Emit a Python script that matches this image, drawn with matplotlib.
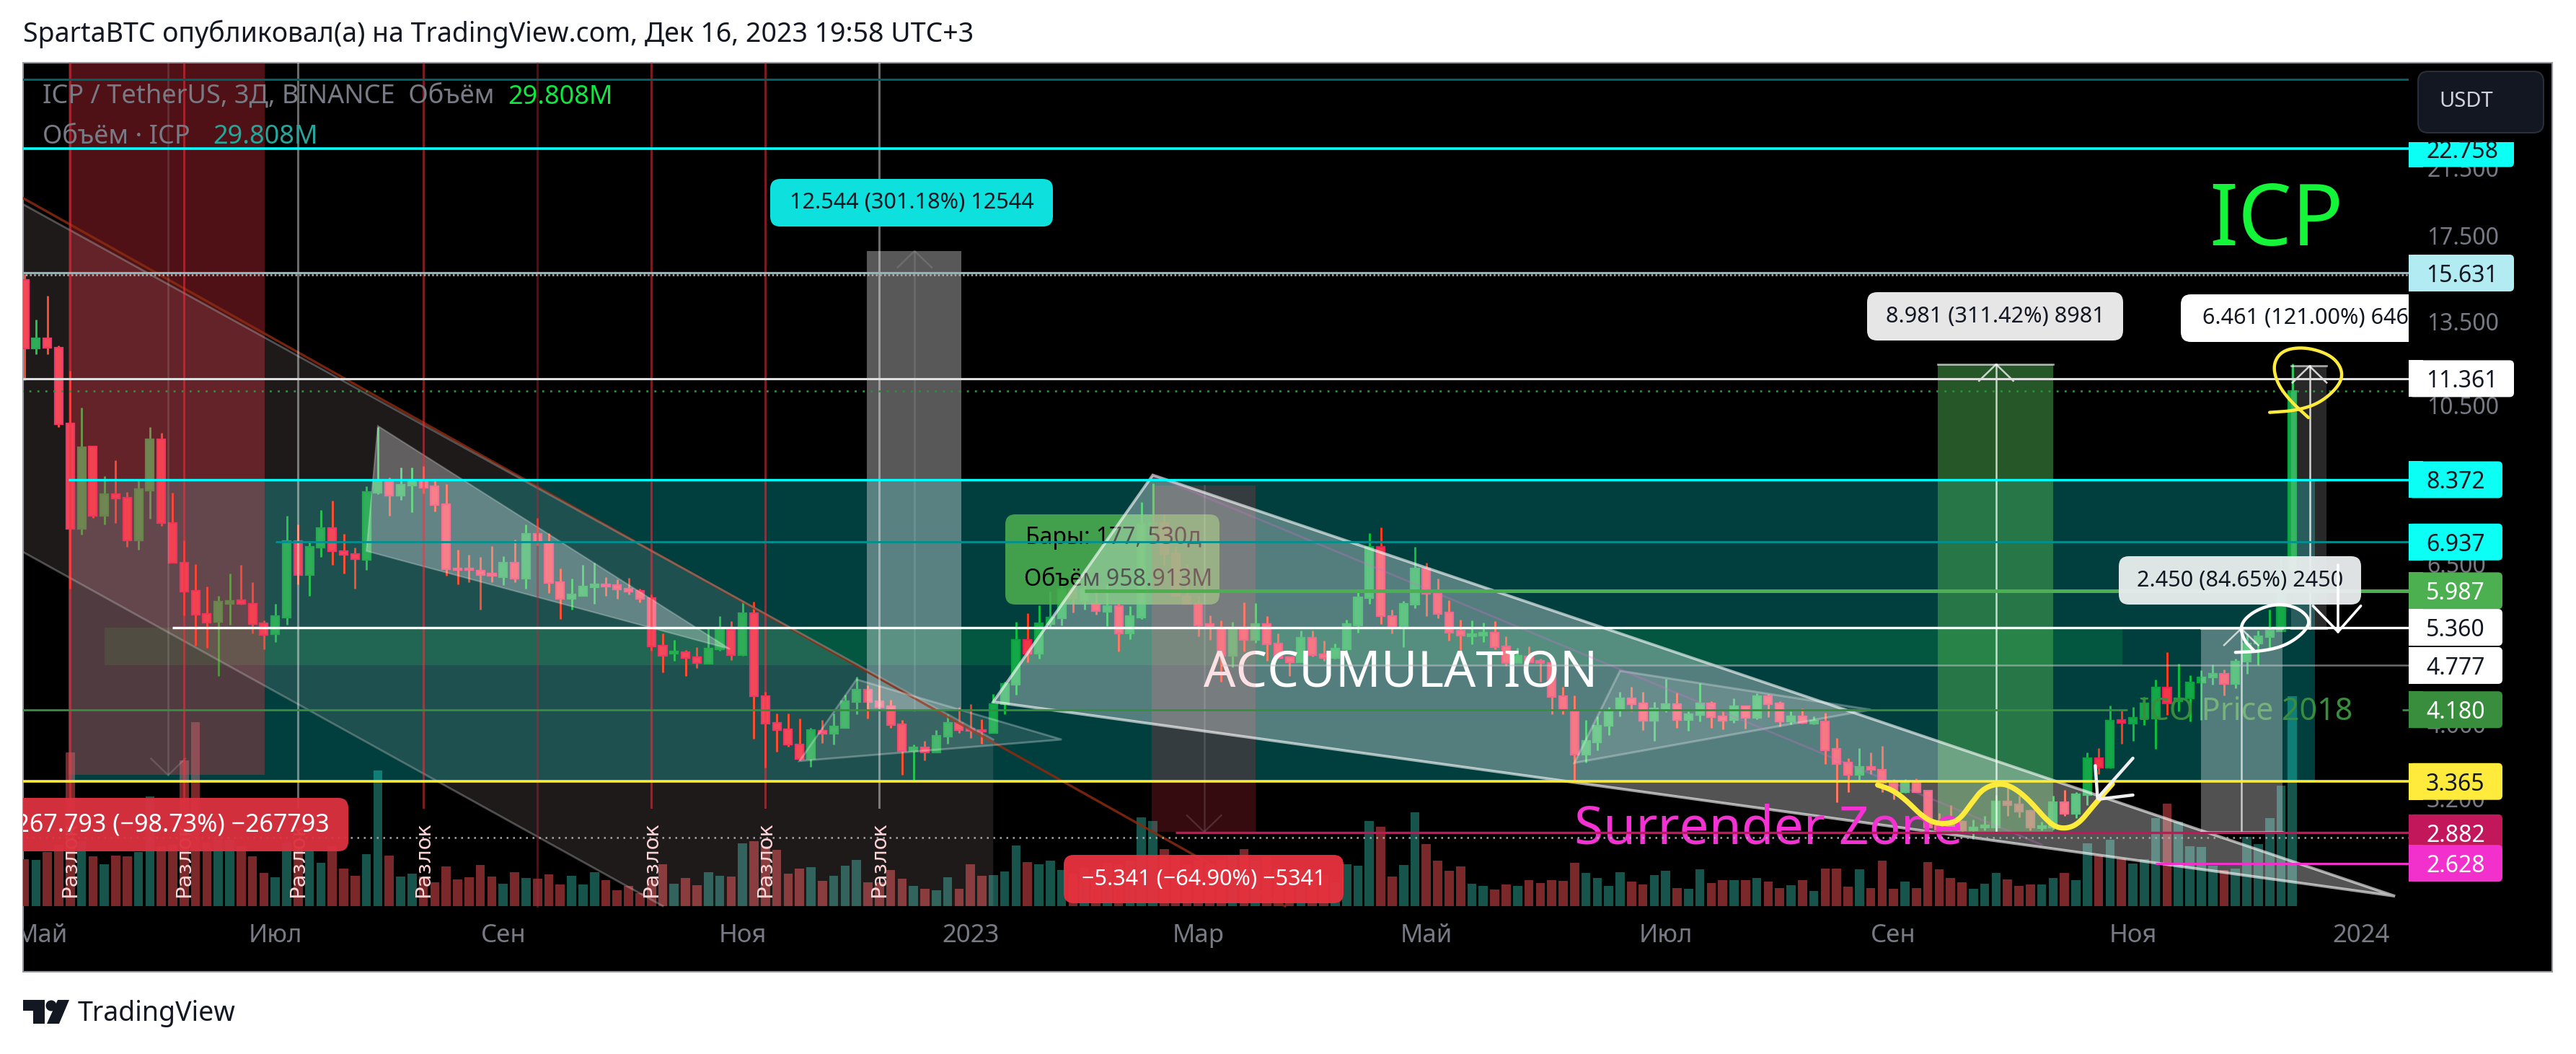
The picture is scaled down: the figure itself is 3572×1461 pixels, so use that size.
import matplotlib
matplotlib.use("Agg")
import matplotlib.pyplot as plt
import numpy as np
from matplotlib.patches import Rectangle, Polygon, FancyBboxPatch
from matplotlib.transforms import Affine2D

W, H = 3572, 1461

# candles, 3 day bars
highs = [15.58,13.58,14.59,12.55,11.63,10.41,9.25,8.46,8.88,8.07,
 8.35,9.82,9.64,8.05,6.97,6.49,6.06,5.90,6.30,6.48,
 6.14,5.47,5.76,7.50,7.32,6.96,7.64,7.86,7.11,6.82,
 8.21,9.82,8.42,8.69,8.69,8.72,8.35,8.26,6.77,6.67,
 6.63,6.85,6.64,6.99,7.32,7.46,7.13,6.41,6.21,6.47,
 6.52,6.24,6.20,6.23,6.02,5.92,5.26,5.16,5.01,5.05,
 5.35,5.54,5.46,5.80,5.79,4.41,4.13,4.13,4.07,3.96,
 4.05,4.13,4.37,4.62,4.50,4.49,4.31,4.05,3.76,3.80,
 3.93,4.12,4.21,4.25,4.06,4.38,4.55,5.45,5.60,5.73,
 5.97,6.14,6.38,6.24,5.97,6.10,5.75,5.72,7.83,8.28,
 7.54,6.85,6.49,5.90,5.56,5.47,5.45,5.78,5.77,5.54,
 5.26,4.91,5.31,5.31,5.15,5.10,5.48,5.96,7.13,7.25,
 5.65,5.80,6.84,6.51,6.21,5.82,5.48,5.47,5.44,5.46,
 5.22,5.04,5.06,4.88,4.88,4.48,4.36,4.05,4.10,4.21,
 4.41,4.48,4.41,4.28,4.59,4.40,4.16,4.53,4.29,4.16,
 4.33,4.23,4.39,4.38,4.29,4.16,4.20,4.10,4.14,3.84,
 3.61,3.72,3.67,3.75,3.39,3.39,3.40,3.27,3.06,3.13,
 2.99,3.00,3.03,3.23,3.30,3.22,3.09,2.98,3.22,3.28,
 3.26,3.67,3.72,4.23,4.17,4.21,4.34,4.58,4.97,4.80,
 4.64,4.71,4.79,4.72,4.88,5.26,5.31,5.66,6.65,11.90]
lows = [11.30,12.23,12.23,9.82,6.03,7.09,7.46,7.32,7.35,6.84,
 6.77,7.44,7.28,6.51,5.56,5.07,5.04,4.63,5.40,5.74,
 5.26,5.02,5.13,5.40,6.10,5.89,6.63,6.48,6.30,6.02,
 6.38,8.02,7.51,7.88,7.59,8.03,7.61,6.27,6.10,6.14,
 5.65,6.15,6.09,6.14,6.03,6.87,5.94,5.50,5.65,5.89,
 5.76,5.89,5.84,5.92,5.78,5.00,4.68,4.85,4.63,4.74,
 4.80,4.99,4.86,4.92,3.83,3.51,3.68,3.74,3.59,3.52,
 3.78,3.76,3.96,4.12,4.07,4.21,3.96,3.43,3.38,3.59,
 3.67,3.77,3.90,3.84,3.77,3.90,4.12,4.37,4.82,4.88,
 5.35,5.39,5.61,5.65,5.57,5.38,4.98,5.17,5.50,7.03,
 6.48,5.88,5.75,5.22,5.16,4.55,4.75,4.98,5.12,4.85,
 4.89,4.63,4.82,4.91,4.85,4.88,4.97,5.28,5.76,5.41,
 5.26,5.05,5.68,5.55,5.51,5.15,4.92,5.09,5.13,5.02,
 4.77,4.81,4.82,4.55,4.12,4.12,3.38,3.56,3.70,3.87,
 4.10,4.16,3.93,3.80,4.15,3.96,3.92,4.03,3.96,3.94,
 4.02,3.95,4.06,4.09,3.97,4.00,4.01,4.00,3.55,3.16,
 3.26,3.37,3.44,3.26,3.19,3.25,3.26,2.92,2.89,2.90,
 2.89,2.83,2.90,2.88,3.03,3.02,2.90,2.90,2.91,3.03,
 3.01,3.13,3.44,3.50,3.77,3.80,3.99,3.71,4.11,4.16,
 4.03,4.05,4.51,4.36,4.46,4.66,4.78,5.01,5.30,6.36]
opens = [15.30,12.44,12.83,12.48,9.92,7.22,9.25,7.51,8.02,7.93,
 6.97,8.10,9.46,7.35,6.52,5.98,5.58,5.45,5.76,5.82,
 5.75,5.43,5.25,5.52,6.96,6.28,6.82,7.24,6.75,6.69,
 6.57,8.05,8.33,7.98,8.22,8.35,8.21,7.78,6.41,6.41,
 6.36,6.31,6.24,6.52,6.21,7.11,6.93,6.14,5.84,5.90,
 6.05,6.11,6.09,6.02,5.98,5.85,5.07,4.95,4.97,4.90,
 4.80,5.02,5.32,4.93,5.59,4.35,4.02,3.94,3.76,3.60,
 3.92,3.89,3.96,4.28,4.44,4.29,4.22,4.00,3.69,3.73,
 3.67,3.85,4.02,3.95,3.93,3.90,4.25,4.51,5.16,4.95,
 5.41,5.51,6.03,5.80,5.75,5.62,5.72,5.26,5.52,7.32,
 7.35,6.70,5.90,5.75,5.41,5.35,4.92,5.35,5.16,5.41,
 5.10,4.90,4.82,5.20,4.94,4.89,5.02,5.39,5.85,6.84,
 5.55,5.38,5.74,6.41,5.94,5.61,5.31,5.22,5.23,5.28,
 5.06,4.81,4.91,4.85,4.81,4.35,4.16,3.65,3.79,3.98,
 4.18,4.33,4.26,4.04,4.18,4.25,4.05,4.11,4.26,4.10,
 4.05,4.22,4.08,4.35,4.26,4.03,4.10,4.01,4.03,3.71,
 3.56,3.43,3.52,3.49,3.35,3.26,3.36,3.27,2.94,2.96,
 2.98,2.90,2.93,2.93,3.17,3.14,3.08,2.92,2.93,3.16,
 3.05,3.23,3.61,3.51,4.05,4.01,4.07,4.07,4.47,4.29,
 4.33,4.54,4.61,4.66,4.52,4.83,5.11,5.21,5.30,6.37]
closes = [12.46,12.83,12.47,9.90,7.22,9.23,7.51,8.02,7.91,6.97,
 8.14,9.46,7.35,6.51,5.97,5.57,5.44,5.79,5.81,5.75,
 5.41,5.24,5.54,6.96,6.28,6.84,7.24,6.74,6.68,6.59,
 8.07,8.33,7.98,8.24,8.35,8.17,7.76,6.39,6.38,6.38,
 6.28,6.27,6.52,6.21,7.11,6.94,6.13,5.84,5.92,6.06,
 6.10,6.06,6.01,5.97,5.84,5.06,4.92,4.98,4.89,4.81,
 5.03,5.33,4.93,5.59,4.35,4.01,3.93,3.76,3.60,3.93,
 3.89,3.97,4.29,4.44,4.28,4.21,3.99,3.69,3.73,3.67,
 3.86,4.02,3.93,3.92,3.91,4.25,4.52,5.16,4.95,5.43,
 5.52,6.01,5.84,6.01,5.63,5.72,5.26,5.54,7.33,7.35,
 6.69,5.90,5.76,5.39,5.35,4.92,5.35,5.16,5.41,5.09,
 4.89,4.82,5.20,4.93,4.89,5.03,5.41,5.87,6.84,5.54,
 5.38,5.75,6.41,5.93,5.58,5.28,5.23,5.25,5.28,5.05,
 4.81,4.92,4.82,4.81,4.34,4.19,3.65,3.80,3.98,4.16,
 4.33,4.25,4.04,4.20,4.25,4.05,4.12,4.26,4.09,4.04,
 4.22,4.08,4.35,4.25,4.03,4.10,4.02,4.04,3.70,3.55,
 3.43,3.52,3.49,3.35,3.28,3.36,3.26,2.93,2.91,2.91,
 2.90,2.93,2.95,3.17,3.13,3.07,2.93,2.94,3.16,3.05,
 3.24,3.61,3.51,4.04,4.02,4.08,4.26,4.47,4.26,4.33,
 4.54,4.61,4.66,4.52,4.83,5.11,5.22,5.31,6.37,10.94]
# volume in millions
volumes = [6.7,6.6,7.7,8.7,21.8,9.2,7.1,5.9,7.2,7.1,
 7.7,15.6,8.5,8.7,20.7,26.1,9.0,9.4,9.4,8.5,
 7.1,4.7,4.1,9.0,8.5,8.0,6.1,8.5,5.3,4.3,
 7.4,19.2,7.2,4.2,4.6,4.2,3.4,5.6,3.8,4.1,
 5.8,4.2,3.2,4.8,4.0,3.9,4.5,3.1,4.3,3.1,
 4.8,3.7,2.2,2.9,1.8,3.7,5.9,3.2,4.0,3.0,
 4.8,4.3,4.2,8.9,9.2,8.5,8.0,4.6,5.3,5.5,
 3.6,4.3,5.7,6.6,3.4,3.4,5.1,3.9,2.9,2.5,
 2.3,4.1,2.5,5.9,4.3,4.4,4.9,8.6,6.2,5.9,
 6.4,5.1,4.6,5.4,5.0,6.1,5.9,6.5,12.6,12.1,
 8.1,7.1,5.9,6.4,5.9,6.6,7.3,8.1,6.5,7.1,
 5.4,4.7,5.1,5.1,4.4,3.4,5.9,5.7,12.1,11.3,
 4.2,5.8,13.3,8.8,6.5,5.0,5.6,3.2,2.9,2.4,
 3.1,2.9,3.7,3.3,3.7,3.6,6.1,4.7,4.0,2.9,
 4.8,3.5,3.1,4.4,5.0,2.6,2.5,5.2,3.3,3.7,
 3.7,3.7,4.0,3.5,2.6,3.0,3.7,2.1,5.3,5.3,
 2.8,5.2,2.6,6.4,2.5,3.5,2.6,6.2,5.2,4.0,
 3.4,2.5,3.2,4.7,3.8,2.9,3.1,3.1,4.0,4.7,
 3.7,8.9,7.2,9.4,6.8,6.0,6.7,12.5,14.5,12.0,
 8.5,8.4,5.7,5.1,5.3,9.8,8.8,12.5,17.1,29.8]

month_bars = [1.5,22,42,63,83,103,123,144,164,185,205]
month_labels = ["Май","Июл","Сен","Ноя","2023","Мар","Май","Июл","Сен","Ноя","2024"]
price_ticks = [21.5,17.5,13.5,10.5,6.5,4.0,3.2]
price_tick_labels = ["21.500","17.500","13.500","10.500","6.500","4.000","3.200"]
break_bars = [4,14,24,35,45,55,65,75]
break_label_bars = [4,14,24,35,55,65,75]
break_colors = ["#f23645","#f23645","#ffffff","#f23645","#a03040","#f23645","#f23645","#ffffff"]

# price levels and their tags on the right
level_prices = [15.631,11.361,8.372,6.937,5.987,5.360,4.777,4.180,3.365,2.882,2.628]
level_tags = ["15.631","11.361","8.372","6.937","5.987","5.360","4.777","4.180","3.365","2.882","2.628"]
tag_colors = ["#b2ebf2","#ffffff","#0cfff4","#0cfff4","#4caf50","#ffffff","#ffffff","#388e3c","#ffeb3b","#c2185b","#f230cc"]
tag_text_colors = ["#131722","#131722","#131722","#131722","#ffffff","#131722","#131722","#ffffff","#131722","#ffffff","#ffffff"]

# hand drawn scribbles, bar / price
wave_bars = [162.6,163.9,165.1,166.4,167.5,168.8,169.8,170.9,171.9,173.4,174.6,175.9,177.2,178.2,179.3,180.3,181.4,182.5,183.2]
wave_prices = [3.33,3.28,3.18,3.04,2.97,2.96,3.00,3.16,3.30,3.35,3.30,3.18,3.02,2.93,2.92,2.97,3.11,3.25,3.34]
ycircle_bars = [197,199.4,201.5,203.2,203.4,202.4,200.2,198.2,197.3,197.6,198.7,200.4]
ycircle_prices = [10.26,10.32,10.57,11.16,11.68,12.2,12.5,12.4,11.9,11.25,10.66,10.1]
wcircle_bars = [194,196.5,198.5,200.1,200.6,199.4,197.5,195.6,194.4,194.7,195.6]
wcircle_prices = [4.97,4.99,5.08,5.29,5.49,5.70,5.76,5.63,5.41,5.16,5.0]

plt.rcParams['font.family'] = ['Noto Sans', 'DejaVu Sans']
GREY = "#787b86"
TXT = "#131722"


def smooth(xs, ys, rounds=3):
	# chaikin corner cutting so the pen strokes are not angular
	pts = np.column_stack([xs, np.log(ys)])
	for r in range(rounds):
		q = pts[:-1]*0.75 + pts[1:]*0.25
		s = pts[:-1]*0.25 + pts[1:]*0.75
		new = np.empty((len(q)*2, 2))
		new[0::2] = q
		new[1::2] = s
		pts = np.vstack([pts[0], new, pts[-1]])
	return pts[:,0], np.exp(pts[:,1])


def box(a, x0, x1, p0, p1, color, alpha, z):
	a.add_patch(Rectangle((x0, p0), x1-x0, p1-p0, fc=color, ec='none', alpha=alpha, zorder=z))


def tri(a, bars, prices, alpha, edge, lw, z=4.2):
	pts = np.column_stack([bars, prices])
	a.add_patch(Polygon(pts, closed=True, fc='white', ec='none', alpha=alpha, zorder=z))
	a.add_patch(Polygon(pts, closed=True, fc='none', ec=(1,1,1,edge), lw=lw, zorder=z+0.1))


def hline(a, p, x0, color, lw, alpha=1.0, ls='-', x1=230, z=6):
	a.plot([x0, x1], [p, p], color=color, lw=lw, alpha=alpha, ls=ls, zorder=z, solid_capstyle='butt')


fig = plt.figure(figsize=(W/100, H/100), dpi=100, facecolor='white')
px = Affine2D().scale(1, -1).translate(0, H)
fig.add_artist(Rectangle((32, 87), 3507, 1260, transform=px, fc='black', ec='#9598a1', lw=1.5, zorder=0))

rect = [32/W, (H-1347)/H, (3340-32)/W, 1260/H]
xlim = (-0.13, 209.2)
ax_vol = fig.add_axes(rect, zorder=1)
ax = fig.add_axes(rect, zorder=2)
ax.set_facecolor('none')
ax_vol.set_facecolor('black')
ax_vol.set_xlim(*xlim)
ax_vol.set_ylim(-9.32, 119.7)
ax_vol.axis('off')

bars = np.arange(len(closes))
opens = np.array(opens)
closes = np.array(closes)
up = closes >= opens
ax_vol.bar(bars, volumes, width=0.8, color=np.where(up, '#16544c', '#7a282a'))

ax.set_yscale('log')
ax.set_xlim(*xlim)
ax.set_ylim(1.894, 29.5)
for s in ax.spines.values():
	s.set_visible(False)
ax.minorticks_off()
ax.yaxis.tick_right()
ax.set_yticks(price_ticks, labels=price_tick_labels)
ax.minorticks_off()
ax.set_xticks(month_bars, labels=month_labels)
ax.tick_params(axis='y', length=0, pad=18, labelsize=23, labelcolor=GREY)
# the time scale sits inside the black pane
ax.tick_params(axis='x', length=0, pad=-48, labelsize=25, labelcolor=GREY)
for t in ax.get_xticklabels():
	if t.get_text() in ("2023", "2024"):
		t.set_fontweight('bold')
	t.set_clip_box(ax.bbox)
	t.set_clip_on(True)

# zones under the candles
box(ax, 3.86, 201, 3.365, 8.33, '#06fbfb', 0.25, 1)
box(ax, 7, 184.1, 4.777, 5.36, '#0a9a4a', 0.28, 1.1)

# candles
ax.vlines(bars[up], np.array(lows)[up], np.array(highs)[up], color='#0cc040', lw=2.1, zorder=3)
ax.vlines(bars[~up], np.array(lows)[~up], np.array(highs)[~up], color='#ff3a1a', lw=2.1, zorder=3)
ax.bar(bars[up], (closes-opens)[up], bottom=opens[up], width=0.7, color='#14a848', edgecolor='#0aa33f', lw=1.6, zorder=3.1)
ax.bar(bars[~up], (closes-opens)[~up], bottom=opens[~up], width=0.7, color='#f23645', edgecolor='#ee1f5a', lw=1.6, zorder=3.1)

# text that sits under the drawing tools
ax.text(1942, 934, "ACCUMULATION", transform=px, color='white', fontsize=50, ha='center', va='center', zorder=3.5)
ax.text(2966, 998, "ICO Price 2018", transform=px, color='#388e3c', fontsize=31, ha='left', va='baseline', zorder=3.9)

# green info label, the red box and the triangle go over it
ax.add_patch(FancyBboxPatch((1394, 713), 297, 125, boxstyle='round,pad=0,rounding_size=14', transform=px, fc='#4caf50', ec='none', alpha=0.88, zorder=3.6))
ax.text(1422, 746, "Бары: 177, 530д", transform=px, color='black', fontsize=23, va='center', zorder=3.65)
ax.text(1420, 803, "Объём 958.913M", transform=px, color='black', fontsize=23, va='center', zorder=3.65)

# descending channel
ax.add_patch(Polygon(np.column_stack([[-0.13,85,85,56,-0.13],[19.24,3.82,2.31,2.31,6.73]]), closed=True, fc='#ffd9d9', ec='none', alpha=0.12, zorder=3.8))
ax.plot([-0.13,110.6],[19.6,2.31], color='#8a2a10', lw=2.4, alpha=0.85, zorder=4.1)
ax.plot([-0.13,85],[19.24,3.82], color='#a0a0a0', lw=2, alpha=0.45, zorder=4.1)
ax.plot([-0.13,56],[6.73,2.31], color='#b0b0b0', lw=2, alpha=0.4, zorder=4.1)

# measure boxes
box(ax, 3.86, 21.1, 3.43, 40, '#f23645', 0.33, 4)
box(ax, 98.9, 108, 2.889, 8.23, '#f23645', 0.22, 4)
box(ax, 73.9, 82.2, 4.165, 16.71, '#ffffff', 0.35, 4)
box(ax, 167.9, 178, 2.884, 11.865, '#4caf50', 0.5, 4)
box(ax, 191, 198.1, 2.89, 5.34, '#ffffff', 0.32, 4)
box(ax, 198.9, 202, 5.34, 11.8, '#ffffff', 0.16, 4)

# triangles
tri(ax, [30,31,61.9], [6.75,9.85,5.02], 0.3, 0.25, 1.5)
tri(ax, [68,73,91], [3.58,4.58,3.82], 0.12, 0.28, 2)
tri(ax, [85,99,208], [4.28,8.49,2.38], 0.33, 0.62, 2.8)
tri(ax, [136,140,162], [3.56,4.70,4.18], 0.12, 0.28, 2.2)
ax.plot([99,177],[8.49,2.78], color='#d070d0', lw=2, alpha=0.3, zorder=4.5)

# arrows in the measure boxes
for b, p0, p1, al in [(12.6,40,3.43,0.14),(103.5,8.23,2.889,0.13),(78.1,4.165,16.71,0.12),(173,2.884,11.865,0.75),(194.5,2.89,5.34,0.7),(200.5,5.34,11.8,0.8)]:
	ax.plot([b,b],[p0,p1], color='white', lw=1.8, alpha=al, zorder=4.6)
	sign = 1 if p1 > p0 else -1
	ax.plot([b-1.5,b,b+1.5],[p1*np.exp(-sign*0.05),p1,p1*np.exp(-sign*0.05)], color='white', lw=1.8, alpha=al, zorder=4.6)
for x0, x1, p in [(167.9,178,11.865),(191,198.1,5.34),(198.9,202,11.8),(198.9,202,5.34),(191,198.1,2.89),(167.9,178,2.884)]:
	ax.plot([x0,x1],[p,p], color='white', lw=2, alpha=0.6, zorder=4.7)

# text over the zones
ax.text(2183, 1170, "Surrender Zone", transform=px, color='#f432d3', fontsize=52.5, ha='left', va='baseline', zorder=5)
ax.text(3063, 340, "ICP", transform=px, color='#14f53a', fontsize=85, ha='left', va='baseline', zorder=5)

# horizontal levels
hline(ax, 28.05, -1, '#006064', 2.2)
hline(ax, 22.758, -1, '#0ff', 2.6)
hline(ax, 15.631, -1, '#8fb5b9', 2.2)
hline(ax, 15.53, -1, '#b0b0b0', 1.8, ls=(0,(1,1.3)))
hline(ax, 11.361, -1, '#dedede', 2.2)
hline(ax, 10.94, -1, '#1a9a30', 2, ls=(0,(1,3)))
hline(ax, 8.372, 3.86, '#0ff', 2.4)
hline(ax, 6.937, 22, '#009090', 2)
hline(ax, 5.987, 93, '#4caf50', 3.6)
hline(ax, 5.36, 13, '#ffffff', 2.4)
hline(ax, 4.777, 105, '#c8c8c8', 1.8, alpha=0.55)
hline(ax, 4.18, -1, '#388e3c', 2, x1=184.5)
hline(ax, 4.18, 208.6, '#388e3c', 2)
hline(ax, 3.365, -1, '#ffeb3b', 2.6)
hline(ax, 2.882, 101, '#c2185b', 2.4)
hline(ax, 2.84, -1, '#a8a8a8', 1.8, ls=(0,(1,2.6)))
hline(ax, 2.628, 187, '#f230cc', 2.2)

# vertical break lines
for b, c in zip(break_bars, break_colors):
	low = 2.31 if b == 45 else 3.11
	ax.plot([b,b],[low,40], color=c, lw=2.2, alpha=0.5 if c == '#f23645' else 0.42, zorder=4.8)
for b in break_label_bars:
	ax.text(b, 2.37, "Разлок", rotation=90, color='#ffd5d8', fontsize=21, ha='center', va='bottom', family=['DejaVu Sans'], zorder=7)

# measure labels
labels = [
	(1068,248,392,66,'#0ee0dd',"12.544 (301.18%) 12544",TXT,1.0),
	(-20,1106,503,74,'#dc3240',"−267.793 (−98.73%) −267793",'white',0.96),
	(1475,1185,388,67,'#e6323e',"−5.341 (−64.90%) −5341",'white',0.96),
	(2589,405,355,67,'#e6e6e6',"8.981 (311.42%) 8981",TXT,1.0),
	(3024,408,400,66,'#ffffff',"6.461 (121.00%) 646",TXT,1.0),
	(2938,771,336,67,'#e8eded',"2.450 (84.65%) 2450",TXT,0.96),
]
for x0, y0, w, h, bg, s, tc, al in labels:
	ax.add_patch(FancyBboxPatch((x0, y0), w, h, boxstyle='round,pad=0,rounding_size=14', transform=px, fc=bg, ec='none', alpha=al, zorder=8))
for x0, y0, w, h, bg, s, tc, al in labels:
	if s.startswith("−267"):
		ax.text(457, y0+h/2, s, transform=px, color=tc, fontsize=24.5, ha='right', va='center', zorder=8.1, clip_on=True)
	elif s.startswith("6.461"):
		ax.text(3340, y0+h/2, s, transform=px, color=tc, fontsize=22, ha='right', va='center', zorder=8.1, clip_on=True)
	else:
		ax.text(x0+w/2, y0+h/2, s, transform=px, color=tc, fontsize=22, ha='center', va='center', zorder=8.1)

# pen strokes on top
sx, sy = smooth(wave_bars, wave_prices)
ax.plot(sx, sy, color='#ffeb3b', lw=5.2, zorder=9, solid_capstyle='round')
sx, sy = smooth(ycircle_bars, ycircle_prices)
ax.plot(sx, sy, color='#ffeb3b', lw=3.2, zorder=9, solid_capstyle='round')
sx, sy = smooth(wcircle_bars, wcircle_prices)
ax.plot(sx, sy, color='white', lw=3.2, zorder=9, solid_capstyle='round')
ax.plot([181.7,181.9,185.0],[3.53,3.20,3.61], color='#f0f0f0', lw=3.2, zorder=9.1, solid_capstyle='round', solid_joinstyle='round')
ax.plot([182.0,185.0],[3.19,3.23], color='#f0f0f0', lw=3.2, zorder=9.1, solid_capstyle='round')
ax.plot([203,203],[6.47,5.29], color='white', lw=2.6, zorder=9, solid_capstyle='round')
ax.plot([200.8,203,205],[5.72,5.29,5.72], color='white', lw=2.6, zorder=9, solid_capstyle='round', solid_joinstyle='round')

# header inside the pane
ax.text(59, 135, "ICP / TetherUS, 3Д, BINANCE  Объём", transform=px, color=GREY, fontsize=26, va='center', zorder=10)
ax.text(704, 135, "29.808M", transform=px, color='#0fe840', fontsize=26, va='center', zorder=10)
ax.text(59, 190, "Объём · ICP", transform=px, color=GREY, fontsize=26, va='center', zorder=10)
ax.text(295, 190, "29.808M", transform=px, color='#26a69a', fontsize=26, va='center', zorder=10)

# overlay for the right hand scale and the page furniture
ov = fig.add_axes([0, 0, 1, 1], zorder=3)
ov.set_xlim(0, W)
ov.set_ylim(H, 0)
ov.axis('off')
ov.patch.set_alpha(0)


def price_y(p):
	return H - ax.transData.transform((0, p))[1]


def tag(p, s, bg, tc):
	y = price_y(p)
	w = 130 if len(s) == 5 else 146
	ov.add_patch(Rectangle((3340, y-25.5), 20, 51, fc=bg, ec='none'))
	ov.add_patch(FancyBboxPatch((3340, y-25.5), w, 51, boxstyle='round,pad=0,rounding_size=6', fc=bg, ec='none'))
	ov.text(3364, y, s, color=tc, fontsize=23, va='center_baseline')


tag(22.758, "22.758", '#0cfff4', TXT)
ov.add_patch(Rectangle((3340, 88), 198, 109, fc='black', ec='none'))
ov.add_patch(FancyBboxPatch((3353, 99), 174, 85, boxstyle='round,pad=0,rounding_size=14', fc='#131722', ec='#2a2e39', lw=1.5))
ov.text(3382, 141, "USDT", color='#d1d4dc', fontsize=21, va='center')
for p, s, bg, tc in zip(level_prices, level_tags, tag_colors, tag_text_colors):
	tag(p, s, bg, tc)

ov.text(32, 47, "SpartaBTC опубликовал(а) на TradingView.com, Дек 16, 2023 19:58 UTC+3", color=TXT, fontsize=27, va='center')

# logo
ov.add_patch(Polygon([(32,1386),(62,1386),(62,1419),(46,1419),(46,1401),(32,1401)], closed=True, fc=TXT, ec='none'))
ov.add_patch(plt.Circle((71,1394), 7.5, fc=TXT, ec='none'))
ov.add_patch(Polygon([(80,1386),(96,1386),(82,1419),(65,1419)], closed=True, fc=TXT, ec='none'))
ov.text(108, 1405, "TradingView", color=TXT, fontsize=27, va='center')

fig.savefig("out.png", dpi=100, facecolor='white')
